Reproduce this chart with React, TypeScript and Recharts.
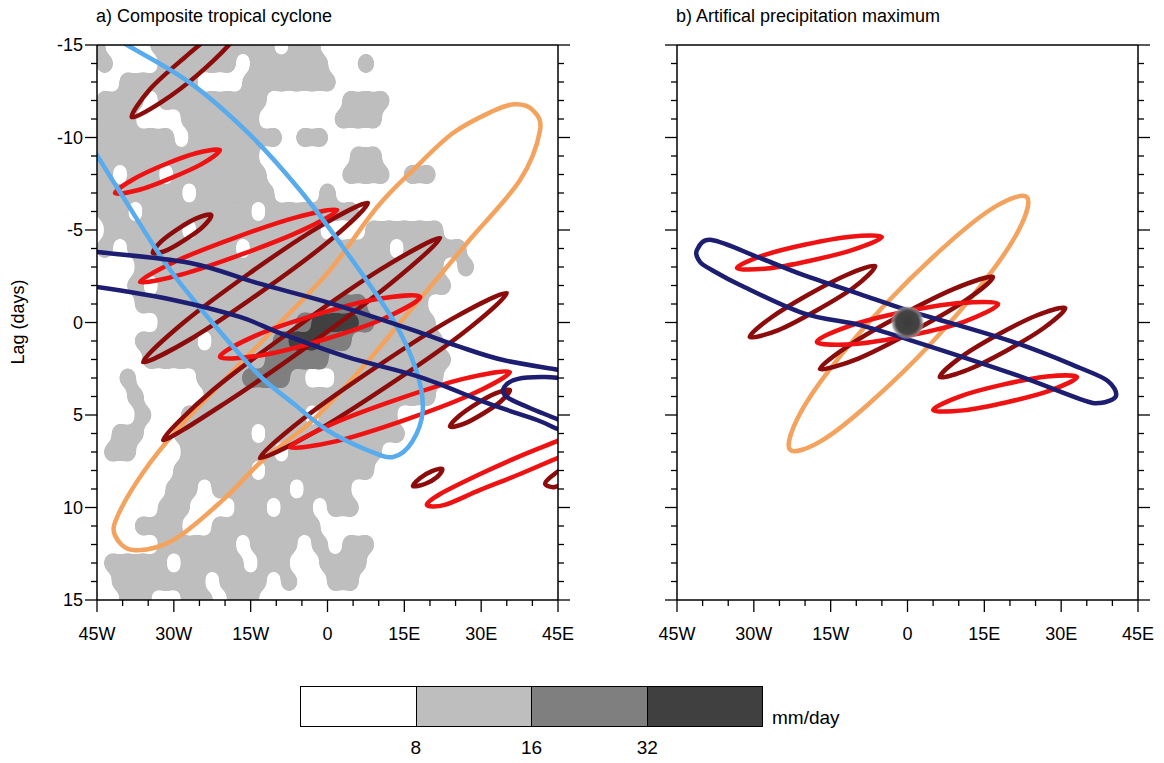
import React from "react";
import { ComposedChart, Line, Scatter, XAxis, YAxis } from "recharts";

type Pt = [number, number];

const FONT = "'Liberation Sans', Arial, Helvetica, sans-serif";

// ---- axes ----
const lonTicks = [-45, -40, -35, -30, -25, -20, -15, -10, -5, 0, 5, 10, 15, 20, 25, 30, 35, 40, 45];
const lonMajor = [-45, -30, -15, 0, 15, 30, 45];
const lonLabels = ["45W", "30W", "15W", "0", "15E", "30E", "45E"];
const lagTicks = [-15, -14, -13, -12, -11, -10, -9, -8, -7, -6, -5, -4, -3, -2, -1, 0, 1, 2, 3, 4, 5, 6, 7, 8, 9, 10, 11, 12, 13, 14, 15];
const lagMajor = [-15, -10, -5, 0, 5, 10, 15];
const lagLabels = ["-15", "-10", "-5", "0", "5", "10", "15"];

// ---- precipitation composite (panel a), 3 deg x 1 day cells, odd rows staggered ----
// '.' < 8, '1' 8-16, '2' 16-32, '3' > 32 mm/day
const precipLonsEven = [-45, -42, -39, -36, -33, -30, -27, -24, -21, -18, -15, -12, -9, -6, -3, 0, 3, 6, 9, 12, 15, 18, 21, 24, 27, 30, 33, 36, 39, 42, 45];
const precipLonsOdd = [-43.5, -40.5, -37.5, -34.5, -31.5, -28.5, -25.5, -22.5, -19.5, -16.5, -13.5, -10.5, -7.5, -4.5, -1.5, 1.5, 4.5, 7.5, 10.5, 13.5, 16.5, 19.5, 22.5, 25.5, 28.5, 31.5, 34.5, 37.5, 40.5, 43.5, 46.5];
const precipLags = [-15, -14, -13, -12, -11, -10, -9, -8, -7, -6, -5, -4, -3, -2, -1, 0, 1, 2, 3, 4, 5, 6, 7, 8, 9, 10, 11, 12, 13, 14, 15];
const precipRows = [
  "1...1 11111 11.11 ..... ..... ..... .",
  "1...1 1111. 11111 ..1.. ..... ..... .",
  "..111 11... 11111 1.... ..... ..... .",
  "111.1 11111 1.... .111. ..... ..... .",
  "111.. .1111 1.... .111. ..... ..... .",
  "11111 .1111 11.11 ..... ..... ..... .",
  "11111 11111 1.... ..11. ..... ..... .",
  "1.11. 11111 1.... .111. 11... ..... .",
  "11111 1.111 11... 1.... ..... ..... .",
  "11.11 11111 .1111 11... ..... ..... .",
  ".1111 1.111 11111 ...11 111.. ..... .",
  "1.111 1111. 11111 1111. 1111. ..... .",
  "...11 11111 11111 11111 111.1 ..... .",
  "..1.1 11111 11111 11111 111.. ..... .",
  "...11 11111 11111 12211 11... ..... .",
  "....1 11111 11123 33211 11... ..... .",
  "...11 11.11 11233 22111 111.. ..... .",
  "...11 11111 12222 11111 111.. ..... .",
  "..1.. ..111 2221. .1111 111.. ..... .",
  "..1.. ..111 11111 11111 11... ..... .",
  "...1. .1111 1111. 11111 ..... ..... .",
  ".11.. 11111 .1111 11111 ..... ..... .",
  ".11.. .1111 11.11 1111. ..... ..... .",
  "..... 11111 .1111 111.. ..... ..... .",
  "..... 11.11 111.1 11... ..... ..... .",
  "....1 1...1 1.11. 11... ..... ..... .",
  "...11 1..11 11111 ..... ..... ..... .",
  "....1 1111. 111.1 .11.. ..... ..... .",
  ".1111 .1111 .11.. 111.. ..... ..... .",
  ".1111 11.11 1.1.. 11... ..... ..... .",
  "..11. .11.1 1.... ..... ..... ..... .",
];

const precipBounds = ["8", "16", "32"];
const precipColors = ["#ffffff", "#bebebe", "#7f7f7f", "#404040"];

// ---- panel a contours (lon, lag) ----
const lightBlueA: Pt[] = [
  [-48.3, -10.68], [-45.0, -9.05], [-39.9, -6.78], [-32.1, -3.38], [-26.3, -1.27], [-18.4, 1.32],
  [-12.8, 3.0], [-6.3, 4.46], [-0.1, 5.81], [7.7, 6.89], [12.8, 7.27], [16.5, 6.46], [18.6, 4.73],
  [17.3, 2.57], [12.8, -0.14], [3.0, -4.08], [-5.4, -7.16], [-15.1, -10.14], [-26.8, -12.95],
  [-39.1, -15.0], [-44.4, -15.92],
];
const orangeA: Pt[] = [
  [37.6, -7.7], [27.8, -4.49], [22.0, -2.57], [16.7, -0.84], [6.9, 2.41], [-2.8, 5.27],
  [-12.6, 7.43], [-20.4, 9.59], [-30.1, 11.76], [-37.9, 12.3], [-41.5, 11.5], [-40.9, 10.41],
  [-36.0, 8.11], [-29.4, 5.81], [-17.7, 2.41], [-9.3, 0.03], [0.5, -2.84], [9.7, -6.24], [16.7, -8.24],
  [24.5, -10.24], [32.3, -11.43], [36.6, -11.8], [40.0, -11.5], [41.5, -10.4],
];
const navyUpperA: Pt[] = [
  [-48.3, -3.92], [-45.0, -3.81], [-26.8, -3.22], [-13.8, -2.14], [0.5, -1.05], [16.7, 0.41],
  [25.9, 1.32], [34.3, 2.03], [45.4, 2.57], [49.3, 2.78],
];
const navyLowerA: Pt[] = [
  [-48.3, -1.97], [-45.0, -1.92], [-30.1, -1.22], [-17.1, -0.3], [-9.3, 0.57], [3.8, 1.86], [18.1, 2.95],
  [31.1, 4.35], [40.9, 5.27], [45.6, 5.81], [46.8, 5.49], [39.5, 4.62], [35.0, 4.03], [34.5, 3.49],
  [37.2, 3.05], [42.5, 2.95], [49.3, 3.11],
];
const maroonA: Pt[][] = [
  [[-38.2, -11.1], [-34.7, -12.6], [-28.0, -14.3], [-20.8, -15.9], [-15.1, -16.6], [-18.6, -15.2], [-25.3, -13.4], [-32.5, -11.9]],
  [[-34.1, -3.76], [-32.4, -4.4], [-29.1, -5.08], [-25.6, -5.63], [-22.7, -5.81], [-24.4, -5.16], [-27.7, -4.49], [-31.2, -3.93]],
  [[-36.0, 2.14], [-28.2, 0.03], [-15.3, -2.65], [-1.9, -5.13], [7.9, -6.46], [0.1, -4.35], [-12.8, -1.68], [-26.2, 0.81]],
  [[-32.1, 6.35], [-22.3, 3.64], [-6.3, 0.3], [10.2, -2.84], [22.0, -4.57], [12.2, -2.08], [-3.8, 1.26], [-20.3, 4.41]],
  [[-13.2, 7.32], [-4.5, 5.15], [9.7, 2.37], [24.4, -0.21], [35.0, -1.59], [26.4, 0.58], [12.1, 3.36], [-2.6, 5.94]],
  [[23.9, 5.62], [25.8, 5.03], [29.2, 4.37], [32.8, 3.83], [35.6, 3.65], [33.8, 4.27], [30.4, 4.92], [26.7, 5.47]],
  [[16.7, 8.84], [18.1, 8.4], [20.4, 8.03], [22.4, 7.92], [21.4, 8.35], [19.0, 8.73]],
  [[42.5, 8.73], [43.8, 8.3], [46.4, 7.86], [47.0, 8.51], [44.4, 8.89]],
];
const redA: Pt[][] = [
  [[-36.6, -2.19], [-29.4, -3.34], [-18.0, -4.59], [-6.3, -5.67], [1.9, -6.08], [-5.3, -4.94], [-16.8, -3.68], [-28.4, -2.6]],
  [[-41.5, -7.0], [-37.8, -7.76], [-31.8, -8.54], [-25.5, -9.16], [-21.0, -9.32], [-24.6, -8.56], [-30.7, -7.79], [-36.9, -7.16]],
  [[-21.0, 1.86], [-13.8, 0.68], [-2.2, -0.43], [9.7, -1.27], [18.1, -1.38], [10.8, -0.19], [-0.7, 0.92], [-12.6, 1.76]],
  [[-7.3, 6.73], [0.7, 5.51], [13.5, 4.17], [26.5, 3.05], [35.6, 2.68], [27.6, 3.95], [14.9, 5.29], [1.8, 6.41]],
  [[19.4, 9.86], [22.0, 9.27], [29.8, 8.19], [37.6, 7.22], [45.4, 6.35], [52.2, 5.59], [53.8, 6.14], [51.2, 6.68], [45.4, 7.27], [37.6, 8.19], [29.8, 9.05], [22.9, 9.86]],
];

// ---- panel b contours ----
const navyB: Pt[] = [
  [-41.1, -3.92], [-38.2, -4.46], [-28.8, -3.49], [-20.4, -2.57], [-9.3, -1.54], [0.5, -0.62], [20.6, 1.05],
  [33.7, 2.46], [39.1, 3.16], [40.7, 3.97], [37.6, 4.35], [33.7, 4.14], [20.6, 2.78], [0.5, 0.95],
  [-9.3, 0.14], [-20.4, -0.51], [-32.7, -2.03], [-38.2, -2.84], [-40.5, -3.27],
];
const orangeB: Pt[] = [
  [-22.9, 6.89], [-21.5, 5.2], [-15.1, 2.51], [-4.1, -1.05], [8.1, -4.32], [17.3, -6.29], [23.3, -6.78],
  [21.9, -5.09], [15.5, -2.41], [4.5, 1.16], [-7.7, 4.43], [-16.9, 6.41],
];
const redB: Pt[][] = [
  [[-33.3, -2.95], [-28.0, -3.64], [-19.7, -4.23], [-11.2, -4.64], [-5.0, -4.62], [-10.7, -3.93], [-19.0, -3.34], [-27.4, -2.92]],
  [[-17.7, 1.05], [-11.0, 0.15], [-0.5, -0.58], [10.2, -1.05], [17.7, -1.0], [11.0, -0.04], [0.5, 0.69], [-10.2, 1.16]],
  [[5.0, 4.73], [10.3, 3.99], [18.6, 3.36], [27.2, 2.92], [33.1, 2.95], [27.8, 3.68], [19.4, 4.31], [10.9, 4.75]],
];
const maroonB: Pt[][] = [
  [[-30.8, 0.78], [-26.6, -0.27], [-19.4, -1.5], [-11.9, -2.57], [-6.3, -3.05], [-10.5, -1.89], [-17.7, -0.66], [-25.2, 0.41]],
  [[-17.1, 2.51], [-11.1, 1.18], [-1.1, -0.42], [9.2, -1.83], [16.7, -2.46], [10.7, -1.07], [0.7, 0.53], [-9.6, 1.95]],
  [[6.3, 2.95], [10.5, 1.86], [17.7, 0.65], [25.2, -0.38], [30.8, -0.78], [26.6, 0.3], [19.4, 1.51], [11.9, 2.54]],
];
const artificialMax = [{ x: 0, y: 0 }];

const LIGHTBLUE = "#58abec";
const ORANGE = "#f4a35e";
const NAVY = "#1d1d72";
const RED = "#ee1212";
const MAROON = "#8c0b0b";

// ---- layout ----
const CHART_W = 600;
const CHART_H = 660;
const LEFT_W = 60;
const RIGHT_W = 20;
const TOP_H = 15;
const BOTTOM_H = 40;
const MARGIN = { top: 30, left: 37, right: 22, bottom: 20 };
const PLOT_LEFT = MARGIN.left + LEFT_W;
const PLOT_TOP = MARGIN.top + TOP_H;
const PLOT_W = CHART_W - MARGIN.left - MARGIN.right - LEFT_W - RIGHT_W;
const PLOT_H = CHART_H - MARGIN.top - MARGIN.bottom - TOP_H - BOTTOM_H;
const PLOT_MARGIN = {
  top: PLOT_TOP,
  left: PLOT_LEFT,
  right: CHART_W - PLOT_LEFT - PLOT_W,
  bottom: CHART_H - PLOT_TOP - PLOT_H,
};
const TICK_MAJOR = 12;
const TICK_MINOR = 6;
const LINE_W = 4.5;
const LABEL_SIZE = 18;

// Catmull-Rom spline through the outline points, optionally closed
function catmullRom(closed: boolean) {
  return (context: any) => {
    let pts: number[][] = [];
    return {
      areaStart() {},
      areaEnd() {},
      lineStart() {
        pts = [];
      },
      point(x: number, y: number) {
        pts.push([+x, +y]);
      },
      lineEnd() {
        const n = pts.length;
        if (n < 2) return;
        const at = (i: number) =>
          closed ? pts[(i + n) % n] : pts[Math.max(0, Math.min(n - 1, i))];
        context.moveTo(pts[0][0], pts[0][1]);
        const segs = closed ? n : n - 1;
        for (let i = 0; i < segs; i++) {
          const p0 = at(i - 1);
          const p1 = at(i);
          const p2 = at(i + 1);
          const p3 = at(i + 2);
          context.bezierCurveTo(
            p1[0] + (p2[0] - p0[0]) / 6,
            p1[1] + (p2[1] - p0[1]) / 6,
            p2[0] - (p3[0] - p1[0]) / 6,
            p2[1] - (p3[1] - p1[1]) / 6,
            p2[0],
            p2[1]
          );
        }
        if (closed) context.closePath();
      },
    };
  };
}
const closedCurve = catmullRom(true);
const openCurve = catmullRom(false);

const toRows = (pts: Pt[]) => pts.map(([x, y]) => ({ x, y }));

function cellsAtLevel(level: number) {
  const out: { x: number; y: number }[] = [];
  precipRows.forEach((row, i) => {
    const r = row.replace(/ /g, "");
    const lons = i % 2 ? precipLonsOdd : precipLonsEven;
    for (let j = 0; j < r.length; j++) {
      const v = r[j] === "." ? 0 : Number(r[j]);
      if (v >= level) out.push({ x: lons[j], y: precipLags[i] });
    }
  });
  return out;
}

const cellW = (PLOT_W / 90) * 3;
const cellH = PLOT_H / 30;

const cellShape = (fill: string, k: number) => (p: any) => (
  <ellipse cx={p.cx} cy={p.cy} rx={cellW * k} ry={cellH * k} fill={fill} />
);

const coreShape = (p: any) => (
  <g>
    <defs>
      <radialGradient id="coreGlow">
        <stop offset="0%" stopColor="#3b3b3b" />
        <stop offset="68%" stopColor="#444444" />
        <stop offset="86%" stopColor="#8a8a8a" stopOpacity={0.8} />
        <stop offset="100%" stopColor="#cccccc" stopOpacity={0} />
      </radialGradient>
    </defs>
    <circle cx={p.cx} cy={p.cy} r={17} fill="url(#coreGlow)" />
  </g>
);

const tickLine = { stroke: "#000", strokeWidth: 1.3 };
const axisLine = { stroke: "#000", strokeWidth: 1.5 };

const lonName = (v: number) => {
  const i = lonMajor.indexOf(v);
  return i >= 0 ? lonLabels[i] : null;
};
const lagName = (v: number) => {
  const i = lagMajor.indexOf(v);
  return i >= 0 ? lagLabels[i] : null;
};

const bottomTick = (props: any) => {
  const { x, y, payload } = props;
  const label = lonName(payload.value);
  return (
    <g>
      <line x1={x} x2={x} y1={y} y2={y + (label ? TICK_MAJOR : TICK_MINOR)} {...tickLine} />
      {label && (
        <text x={x} y={y + 34} textAnchor="middle" dominantBaseline="central" fontSize={LABEL_SIZE} fontFamily={FONT} fill="#000">
          {label}
        </text>
      )}
    </g>
  );
};
const topTick = (props: any) => {
  const { x, y, payload } = props;
  const major = lonName(payload.value) !== null;
  return <line x1={x} x2={x} y1={y} y2={y - (major ? TICK_MAJOR : TICK_MINOR)} {...tickLine} />;
};
const leftTick = (withLabels: boolean) => (props: any) => {
  const { x, y, payload } = props;
  const label = lagName(payload.value);
  return (
    <g>
      <line x1={x} x2={x - (label ? TICK_MAJOR : TICK_MINOR)} y1={y} y2={y} {...tickLine} />
      {withLabels && label && (
        <text x={x - 14} y={y} textAnchor="end" dominantBaseline="central" fontSize={LABEL_SIZE} fontFamily={FONT} fill="#000">
          {label}
        </text>
      )}
    </g>
  );
};
const rightTick = (props: any) => {
  const { x, y, payload } = props;
  const major = lagName(payload.value) !== null;
  return <line x1={x} x2={x + (major ? TICK_MAJOR : TICK_MINOR)} y1={y} y2={y} {...tickLine} />;
};

// one precipitation level; blurred and re-thresholded so the cells merge into smooth patches
function ShadeLayer({ level, color, k }: { level: number; color: string; k: number }) {
  return (
    <div
      style={{
        position: "absolute",
        left: PLOT_LEFT,
        top: PLOT_TOP,
        width: PLOT_W,
        height: PLOT_H,
        overflow: "hidden",
      }}
    >
      <div style={{ position: "absolute", left: -PLOT_LEFT, top: -PLOT_TOP, filter: "url(#precipGoo)" }}>
        <ComposedChart width={CHART_W} height={CHART_H} margin={PLOT_MARGIN}>
          <XAxis dataKey="x" type="number" domain={[-45, 45]} hide />
          <YAxis dataKey="y" type="number" domain={[-15, 15]} reversed hide />
          <Scatter data={cellsAtLevel(level)} shape={cellShape(color, k)} isAnimationActive={false} />
        </ComposedChart>
      </div>
    </div>
  );
}

interface Contour {
  pts: Pt[];
  color: string;
  open?: boolean;
}

interface PanelProps {
  contours: Contour[];
  core?: boolean;
  yLabels?: boolean;
}

function Panel({ contours, core, yLabels }: PanelProps) {
  return (
    <ComposedChart width={CHART_W} height={CHART_H} margin={MARGIN}>
      <XAxis
        dataKey="x"
        type="number"
        domain={[-45, 45]}
        ticks={lonTicks}
        interval={0}
        allowDataOverflow
        height={BOTTOM_H}
        tickSize={0}
        tickMargin={0}
        axisLine={axisLine}
        tickLine={false}
        tick={bottomTick}
      />
      <XAxis
        xAxisId="top"
        orientation="top"
        type="number"
        domain={[-45, 45]}
        ticks={lonTicks}
        interval={0}
        allowDataOverflow
        height={TOP_H}
        tickSize={0}
        tickMargin={0}
        axisLine={axisLine}
        tickLine={false}
        tick={topTick}
      />
      <YAxis
        dataKey="y"
        type="number"
        domain={[-15, 15]}
        reversed
        ticks={lagTicks}
        interval={0}
        allowDataOverflow
        width={LEFT_W}
        tickSize={0}
        tickMargin={0}
        axisLine={axisLine}
        tickLine={false}
        tick={leftTick(!!yLabels)}
      />
      <YAxis
        yAxisId="right"
        orientation="right"
        type="number"
        domain={[-15, 15]}
        reversed
        ticks={lagTicks}
        interval={0}
        allowDataOverflow
        width={RIGHT_W}
        tickSize={0}
        tickMargin={0}
        axisLine={axisLine}
        tickLine={false}
        tick={rightTick}
      />
      {contours.map((c, i) => (
        <Line
          key={i}
          data={toRows(c.pts)}
          dataKey="y"
          type={(c.open ? openCurve : closedCurve) as any}
          stroke={c.color}
          strokeWidth={LINE_W}
          dot={false}
          activeDot={false}
          isAnimationActive={false}
        />
      ))}
      {core && <Scatter data={artificialMax} shape={coreShape} isAnimationActive={false} />}
    </ComposedChart>
  );
}

const contoursA: Contour[] = [
  { pts: orangeA, color: ORANGE },
  ...maroonA.map((pts) => ({ pts, color: MAROON })),
  ...redA.map((pts) => ({ pts, color: RED })),
  { pts: lightBlueA, color: LIGHTBLUE, open: true },
  { pts: navyUpperA, color: NAVY, open: true },
  { pts: navyLowerA, color: NAVY, open: true },
];

const contoursB: Contour[] = [
  { pts: orangeB, color: ORANGE },
  ...maroonB.map((pts) => ({ pts, color: MAROON })),
  ...redB.map((pts) => ({ pts, color: RED })),
  { pts: navyB, color: NAVY },
];

const textStyle: React.CSSProperties = {
  position: "absolute",
  fontFamily: FONT,
  fontSize: 18,
  color: "#000",
  whiteSpace: "nowrap",
  lineHeight: "22px",
};

export default function App() {
  const barLeft = 300;
  const barTop = 686;
  const barW = 463;
  const barH = 41;
  const box = barW / precipColors.length;
  return (
    <div style={{ position: "absolute", left: 0, top: 0, width: 1164, height: 763, background: "#fff", overflow: "hidden" }}>
      <svg width={0} height={0} style={{ position: "absolute" }}>
        <defs>
          <filter id="precipGoo" colorInterpolationFilters="sRGB">
            <feGaussianBlur in="SourceGraphic" stdDeviation="4.5" />
            <feComponentTransfer>
              <feFuncA type="linear" slope="16" intercept="-7.2" />
            </feComponentTransfer>
          </filter>
        </defs>
      </svg>
      <ShadeLayer level={1} color={precipColors[1]} k={0.58} />
      <ShadeLayer level={2} color={precipColors[2]} k={0.6} />
      <ShadeLayer level={3} color={precipColors[3]} k={0.58} />
      <div style={{ position: "absolute", left: 0, top: 0 }}>
        <Panel contours={contoursA} yLabels />
      </div>
      <div style={{ position: "absolute", left: 580, top: 0 }}>
        <Panel contours={contoursB} core />
      </div>
      <div style={{ ...textStyle, left: 96, top: 5 }}>a) Composite tropical cyclone</div>
      <div style={{ ...textStyle, left: 676, top: 5 }}>b) Artifical precipitation maximum</div>
      <div
        style={{
          ...textStyle,
          left: 18,
          top: 322,
          transform: "translate(-50%, -50%) rotate(-90deg)",
        }}
      >
        Lag (days)
      </div>
      <div
        style={{
          position: "absolute",
          left: barLeft,
          top: barTop,
          width: barW,
          height: barH,
          display: "flex",
          border: "1px solid #000",
          boxSizing: "border-box",
        }}
      >
        {precipColors.map((c, i) => (
          <div key={c} style={{ flex: 1, background: c, borderLeft: i ? "1px solid #000" : "none" }} />
        ))}
      </div>
      {precipBounds.map((t, i) => (
        <div
          key={t}
          style={{ ...textStyle, fontSize: 19, left: barLeft + box * (i + 1), top: 737, transform: "translateX(-50%)" }}
        >
          {t}
        </div>
      ))}
      <div style={{ ...textStyle, fontSize: 19, left: 772, top: 707 }}>mm/day</div>
    </div>
  );
}
